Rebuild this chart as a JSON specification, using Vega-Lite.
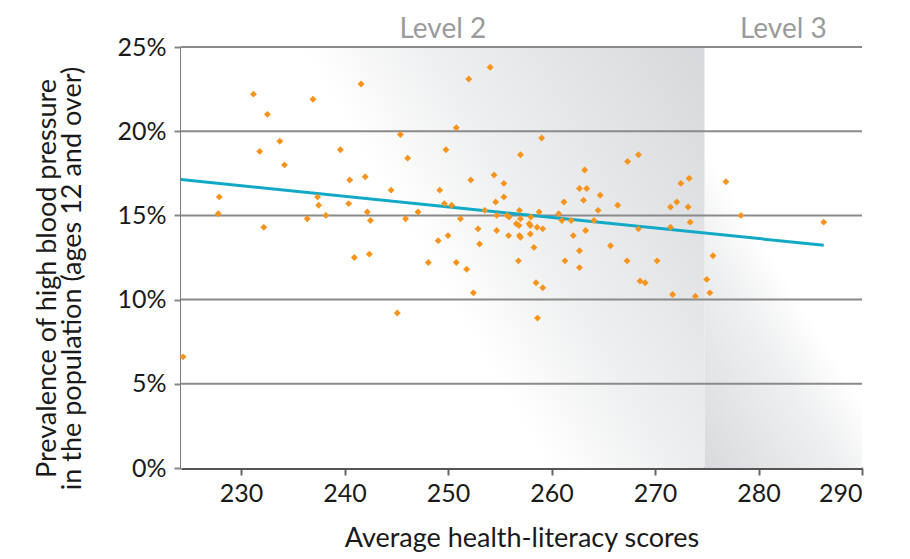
{
  "$schema": "https://vega.github.io/schema/vega-lite/v6.json",
  "width": 681,
  "height": 421,
  "autosize": {"type": "none"},
  "padding": {"left": 181, "top": 47, "right": 48, "bottom": 91},
  "background": "#ffffff",
  "config": {
    "view": {"stroke": null},
    "axis": {
      "grid": false,
      "labelFont": "Lato", "labelFontSize": 25, "labelColor": "#1a1a1a",
      "titleFont": "Lato", "titleFontWeight": "normal", "titleColor": "#1a1a1a",
      "tickWidth": 2, "tickSize": 7
    },
    "axisX": {"domainColor": "#555555", "domainWidth": 3, "tickColor": "#666666", "labelPadding": 6},
    "axisY": {"domainColor": "#7b7b7b", "domainWidth": 3, "tickColor": "#888888", "labelPadding": 8}
  },
  "datasets": {
    "bands": [
      {"level": "Level 2", "x": 224.2, "x2": 274.8, "y": 0, "y2": 25},
      {"level": "Level 3", "x": 274.8, "x2": 290, "y": 0, "y2": 25}
    ],
    "labels": [
      {"label": "Level 2", "x": 249.5, "y": 25},
      {"label": "Level 3", "x": 282.4, "y": 25}
    ],
    "grid": [{"y": 5}, {"y": 10}, {"y": 15}, {"y": 20}, {"y": 25}],
    "fit": [{"x": 224.2, "y": 17.13}, {"x": 286.3, "y": 13.23}],
    "points": [
      {"x": 224.4, "y": 6.6}, {"x": 227.9, "y": 16.1}, {"x": 227.8, "y": 15.1}, {"x": 231.2, "y": 22.2},
      {"x": 231.8, "y": 18.8}, {"x": 232.2, "y": 14.3}, {"x": 232.55, "y": 21.0}, {"x": 233.75, "y": 19.4},
      {"x": 234.2, "y": 18.0}, {"x": 236.4, "y": 14.8}, {"x": 236.95, "y": 21.9}, {"x": 237.4, "y": 16.1},
      {"x": 237.5, "y": 15.6}, {"x": 238.2, "y": 15.0}, {"x": 239.6, "y": 18.9}, {"x": 240.4, "y": 15.7},
      {"x": 240.5, "y": 17.1}, {"x": 240.95, "y": 12.5}, {"x": 241.6, "y": 22.8}, {"x": 242.0, "y": 17.3},
      {"x": 242.2, "y": 15.2}, {"x": 242.4, "y": 12.7}, {"x": 242.5, "y": 14.7}, {"x": 244.5, "y": 16.5},
      {"x": 245.1, "y": 9.2}, {"x": 245.4, "y": 19.8}, {"x": 245.9, "y": 14.8}, {"x": 246.1, "y": 18.4},
      {"x": 247.1, "y": 15.2}, {"x": 248.1, "y": 12.2}, {"x": 249.05, "y": 13.5}, {"x": 249.2, "y": 16.5},
      {"x": 249.65, "y": 15.7}, {"x": 249.8, "y": 18.9}, {"x": 250.0, "y": 13.8}, {"x": 250.35, "y": 15.6},
      {"x": 250.8, "y": 12.2}, {"x": 250.8, "y": 20.2}, {"x": 251.2, "y": 14.8}, {"x": 251.8, "y": 11.8},
      {"x": 252.0, "y": 23.1}, {"x": 252.2, "y": 17.1}, {"x": 252.45, "y": 10.4}, {"x": 252.9, "y": 14.2},
      {"x": 253.05, "y": 13.3}, {"x": 253.55, "y": 15.3}, {"x": 254.07, "y": 23.8}, {"x": 254.45, "y": 17.4},
      {"x": 254.6, "y": 15.8}, {"x": 254.7, "y": 15.0}, {"x": 254.7, "y": 14.1}, {"x": 255.4, "y": 16.9},
      {"x": 255.4, "y": 16.1}, {"x": 255.7, "y": 15.0}, {"x": 255.9, "y": 14.9}, {"x": 255.85, "y": 13.8},
      {"x": 256.6, "y": 14.5}, {"x": 256.8, "y": 12.3}, {"x": 256.85, "y": 14.4}, {"x": 256.9, "y": 15.3},
      {"x": 256.9, "y": 13.8}, {"x": 257.0, "y": 18.6}, {"x": 257.0, "y": 14.8}, {"x": 257.0, "y": 13.7},
      {"x": 257.85, "y": 14.5}, {"x": 257.95, "y": 14.4}, {"x": 257.95, "y": 13.9}, {"x": 258.0, "y": 14.9},
      {"x": 258.3, "y": 13.1}, {"x": 258.5, "y": 11.0}, {"x": 258.6, "y": 14.3}, {"x": 258.65, "y": 8.9},
      {"x": 258.8, "y": 15.2}, {"x": 259.05, "y": 19.6}, {"x": 259.15, "y": 14.2}, {"x": 259.15, "y": 10.7},
      {"x": 260.7, "y": 15.1}, {"x": 261.0, "y": 14.7}, {"x": 261.2, "y": 15.8}, {"x": 261.3, "y": 12.3},
      {"x": 261.9, "y": 14.7}, {"x": 262.1, "y": 13.8}, {"x": 262.7, "y": 16.6}, {"x": 262.7, "y": 12.9},
      {"x": 262.7, "y": 11.9}, {"x": 263.1, "y": 15.9}, {"x": 263.2, "y": 17.7}, {"x": 263.3, "y": 14.1},
      {"x": 263.4, "y": 16.6}, {"x": 264.1, "y": 14.7}, {"x": 264.5, "y": 15.3}, {"x": 264.7, "y": 16.2},
      {"x": 265.7, "y": 13.2}, {"x": 266.4, "y": 15.6}, {"x": 267.3, "y": 12.3}, {"x": 267.35, "y": 18.2},
      {"x": 268.4, "y": 18.6}, {"x": 268.4, "y": 14.2}, {"x": 268.55, "y": 11.1}, {"x": 269.05, "y": 11.0},
      {"x": 270.2, "y": 12.3}, {"x": 271.5, "y": 15.5}, {"x": 271.5, "y": 14.3}, {"x": 271.7, "y": 10.3},
      {"x": 272.1, "y": 15.8}, {"x": 272.5, "y": 16.9}, {"x": 273.2, "y": 15.5}, {"x": 273.3, "y": 17.2},
      {"x": 273.4, "y": 14.6}, {"x": 273.9, "y": 10.2}, {"x": 275.0, "y": 11.2}, {"x": 275.3, "y": 10.4},
      {"x": 275.6, "y": 12.6}, {"x": 276.85, "y": 17.0}, {"x": 278.3, "y": 15.0}, {"x": 286.3, "y": 14.6}
    ]
  },
  "layer": [
    {
      "data": {"name": "bands"},
      "transform": [{"filter": "datum.level == 'Level 2'"}],
      "mark": {
        "type": "rect",
        "color": {
          "gradient": "linear",
          "x1": 0.23, "y1": 0, "x2": 0.861, "y2": -0.297,
          "stops": [
            {"offset": 0, "color": "#ffffff"},
            {"offset": 0.3, "color": "#eff0f1"},
            {"offset": 1, "color": "#d7d8db"}
          ]
        }
      },
      "encoding": {
        "x": {
          "field": "x", "type": "quantitative",
          "scale": {"domain": [224.2, 290], "nice": false, "zero": false},
          "axis": {
            "values": [230, 240, 250, 260, 270, 280, 290],
            "title": "Average health-literacy scores",
            "titleFontSize": 27,
            "titleBaseline": "alphabetic", "titleY": 78
          }
        },
        "x2": {"field": "x2"},
        "y": {
          "field": "y", "type": "quantitative",
          "scale": {"domain": [0, 25], "nice": false},
          "axis": {
            "values": [0, 5, 10, 15, 20, 25],
            "labelExpr": "datum.value + '%'",
            "title": ["Prevalence of high blood pressure", "in the population (ages 12 and over)"],
            "titleFontSize": 27,
            "titleAngle": 270, "titleAlign": "center", "titleBaseline": "alphabetic",
            "titleLineHeight": 25, "titleX": -126, "titleY": 231
          }
        },
        "y2": {"field": "y2"}
      }
    },
    {
      "data": {"name": "bands"},
      "transform": [{"filter": "datum.level == 'Level 3'"}],
      "mark": {
        "type": "rect",
        "color": {
          "gradient": "linear",
          "x1": 0, "y1": 0.245, "x2": -0.332, "y2": 0.803,
          "stops": [
            {"offset": 0, "color": "#ffffff"},
            {"offset": 0.3, "color": "#eff0f1"},
            {"offset": 1, "color": "#d9dadd"}
          ]
        }
      },
      "encoding": {
        "x": {"field": "x", "type": "quantitative"},
        "x2": {"field": "x2"},
        "y": {"field": "y", "type": "quantitative"},
        "y2": {"field": "y2"}
      }
    },
    {
      "data": {"name": "grid"},
      "mark": {"type": "rule", "color": "#8a8a8a", "strokeWidth": 2},
      "encoding": {
        "y": {"field": "y", "type": "quantitative"}
      }
    },
    {
      "data": {"name": "fit"},
      "mark": {"type": "line", "color": "#12a9c6", "strokeWidth": 3},
      "encoding": {
        "x": {"field": "x", "type": "quantitative"},
        "y": {"field": "y", "type": "quantitative"}
      }
    },
    {
      "data": {"name": "points"},
      "mark": {"type": "point", "shape": "diamond", "filled": true, "size": 48, "color": "#f7941d", "opacity": 1},
      "encoding": {
        "x": {"field": "x", "type": "quantitative"},
        "y": {"field": "y", "type": "quantitative"}
      }
    },
    {
      "data": {"name": "labels"},
      "mark": {"type": "text", "font": "Lato", "fontSize": 28, "color": "#9b9b9b", "baseline": "alphabetic", "align": "center", "dy": -9},
      "encoding": {
        "x": {"field": "x", "type": "quantitative"},
        "y": {"field": "y", "type": "quantitative"},
        "text": {"field": "label"}
      }
    }
  ]
}
